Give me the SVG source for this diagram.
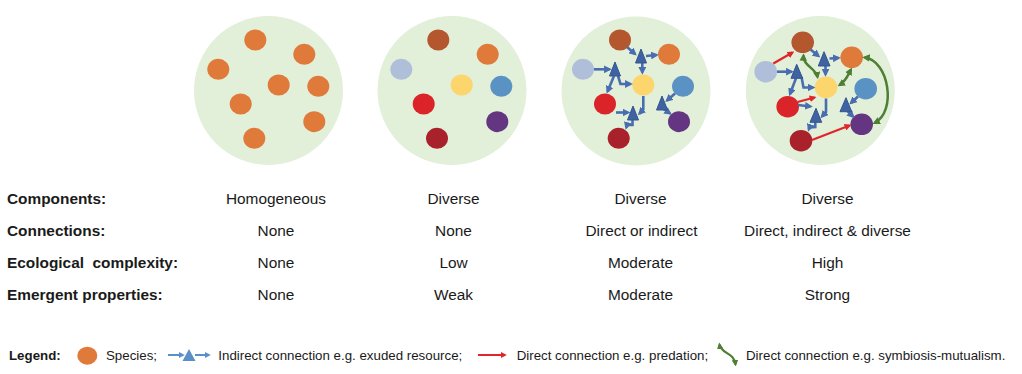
<svg xmlns="http://www.w3.org/2000/svg" width="1022" height="374" viewBox="0 0 1022 374">
<style>
.bg{fill:#e2efd9}
.or{fill:#e07a3a}.br{fill:#b4572e}.lb{fill:#afbfd9}.ye{fill:#fcd56c}.bl{fill:#5b92c4}.rd{fill:#da2429}.pu{fill:#643681}.dr{fill:#a8212b}
.tri{fill:#3f62a3;stroke:#34548f;stroke-width:1;stroke-linejoin:round}
.ba{fill:none;stroke:#4a6db0;stroke-width:2.6;marker-end:url(#mb)}
.ra{fill:none;stroke:#e0262a;stroke-width:2.3;marker-end:url(#mr)}
.ga{fill:none;stroke:#4e7f33;stroke-width:2.5;marker-start:url(#mg);marker-end:url(#mg)}
.lab{font-family:"Liberation Sans",Arial,sans-serif;font-size:15.4px;font-weight:bold;fill:#1a1a1a;white-space:pre}
.val{font-family:"Liberation Sans",Arial,sans-serif;font-size:15.4px;fill:#1a1a1a;text-anchor:middle}
.leg{font-family:"Liberation Sans",Arial,sans-serif;font-size:13.3px;fill:#1a1a1a}
</style>
<defs>
<marker id="mb" viewBox="0 0 10 10" refX="7" refY="5" markerWidth="3" markerHeight="3" orient="auto-start-reverse"><path d="M0,0 L10,5 L0,10 z" fill="#4a6db0"/></marker>
<marker id="mbl" viewBox="0 0 10 10" refX="7" refY="5" markerWidth="3" markerHeight="3" orient="auto-start-reverse"><path d="M0,0 L10,5 L0,10 z" fill="#5b8fc8"/></marker>
<marker id="mr" viewBox="0 0 10 10" refX="7" refY="5" markerWidth="3" markerHeight="3" orient="auto-start-reverse"><path d="M0,0 L10,5 L0,10 z" fill="#e0262a"/></marker>
<marker id="mg" viewBox="0 0 10 10" refX="7" refY="5" markerWidth="3" markerHeight="3" orient="auto-start-reverse"><path d="M0,0 L10,5 L0,10 z" fill="#4e7f33"/></marker>
</defs>

<!-- Panel 1 -->
<g id="panel1">
<circle class="bg" cx="268.5" cy="90.5" r="74.5"/>
<g id="p1-species">
<ellipse id="p1s1" class="or" cx="255.3" cy="40" rx="11" ry="10.5"/>
<ellipse id="p1s2" class="or" cx="304.3" cy="54.3" rx="11" ry="10.5"/>
<ellipse id="p1s3" class="or" cx="218.3" cy="69.3" rx="11" ry="10.5"/>
<ellipse id="p1s4" class="or" cx="278.7" cy="85" rx="11" ry="10.5"/>
<ellipse id="p1s5" class="or" cx="318.3" cy="86.3" rx="11" ry="10.5"/>
<ellipse id="p1s6" class="or" cx="240.7" cy="104" rx="11" ry="10.5"/>
<ellipse id="p1s7" class="or" cx="314.3" cy="121.7" rx="11" ry="10.5"/>
<ellipse id="p1s8" class="or" cx="254.3" cy="138.3" rx="11" ry="10.5"/>
</g>
</g>

<!-- Panel 2 -->
<g id="panel2">
<circle class="bg" cx="452" cy="90.5" r="74.5"/>
<g id="p2-species">
<ellipse id="p2-brown" class="br" cx="438.3" cy="40" rx="11" ry="10.5"/>
<ellipse id="p2-orange" class="or" cx="487.7" cy="54.3" rx="11" ry="10.5"/>
<ellipse id="p2-lightblue" class="lb" cx="401.3" cy="69.3" rx="11" ry="10.5"/>
<ellipse id="p2-yellow" class="ye" cx="461.7" cy="85" rx="11" ry="10.5"/>
<ellipse id="p2-blue" class="bl" cx="501.3" cy="86.3" rx="11" ry="10.5"/>
<ellipse id="p2-red" class="rd" cx="423.7" cy="104" rx="11" ry="10.5"/>
<ellipse id="p2-purple" class="pu" cx="497.3" cy="121.7" rx="11" ry="10.5"/>
<ellipse id="p2-darkred" class="dr" cx="437" cy="138.3" rx="11" ry="10.5"/>
</g>
</g>

<!-- Panel 3 -->
<g id="panel3">
<circle class="bg" cx="636" cy="91" r="74.5"/>
<g id="p3-species">
<ellipse id="p3-brown" class="br" cx="620" cy="40" rx="11" ry="10.5"/>
<ellipse id="p3-orange" class="or" cx="669" cy="54.3" rx="11" ry="10.5"/>
<ellipse id="p3-lightblue" class="lb" cx="583" cy="69.3" rx="11" ry="10.5"/>
<ellipse id="p3-yellow" class="ye" cx="643.3" cy="85" rx="11" ry="10.5"/>
<ellipse id="p3-blue" class="bl" cx="683" cy="86.3" rx="11" ry="10.5"/>
<ellipse id="p3-red" class="rd" cx="605" cy="104" rx="11" ry="10.5"/>
<ellipse id="p3-purple" class="pu" cx="679" cy="121.7" rx="11" ry="10.5"/>
<ellipse id="p3-darkred" class="dr" cx="618.7" cy="138.3" rx="11" ry="10.5"/>
</g>
<g id="p3-connectors">
<path class="ba" d="M627,47 L635,54"/>
<path class="ba" d="M646,56 L656.5,55"/>
<path class="ba" d="M642.3,63 L642.3,72.5"/>
<path class="ba" d="M594,69.3 L609.5,69.3"/>
<path class="ba" d="M614,76 L607.5,91.5"/>
<path class="ba" d="M618,76 L620.5,84 L630.5,84"/>
<path class="ba" d="M616,112.5 L628,112.5"/>
<path class="ba" d="M643.3,96 L643.3,109.5 L639.5,113.5"/>
<path class="ba" d="M632.5,119.5 L632.5,125 L627,125 L626.3,127.5"/>
<path class="ba" d="M675,93.5 L667,100.5"/>
<path class="ba" d="M663.5,109 L670,113.5"/>
</g>
<g id="p3-resources">
<polygon id="p3-t1" class="tri" points="641,49 635.5,63 646.5,63"/>
<polygon id="p3-t2" class="tri" points="615,62 609.5,76 620.5,76"/>
<polygon id="p3-t3" class="tri" points="633,106 627.5,120 638.5,120"/>
<polygon id="p3-t4" class="tri" points="662,96 656.5,110 667.5,110"/>
</g>
</g>

<!-- Panel 4 -->
<g id="panel4">
<circle class="bg" cx="820.3" cy="90.5" r="74.5"/>
<g id="p4-species">
<ellipse id="p4-brown" class="br" cx="802.7" cy="42.3" rx="11.3" ry="10.8"/>
<ellipse id="p4-orange" class="or" cx="851.7" cy="57.3" rx="11.3" ry="10.8"/>
<ellipse id="p4-lightblue" class="lb" cx="765.7" cy="71.7" rx="11.3" ry="10.8"/>
<ellipse id="p4-yellow" class="ye" cx="826" cy="87.3" rx="11.3" ry="10.8"/>
<ellipse id="p4-blue" class="bl" cx="865.7" cy="88.7" rx="11.3" ry="10.8"/>
<ellipse id="p4-red" class="rd" cx="787.7" cy="106.7" rx="11.3" ry="10.8"/>
<ellipse id="p4-purple" class="pu" cx="861.7" cy="124.3" rx="11.3" ry="10.8"/>
<ellipse id="p4-darkred" class="dr" cx="801" cy="140.7" rx="11.3" ry="10.8"/>
</g>
<g id="p4-connectors">
<path class="ba" d="M810.5,49.5 L818.5,56"/>
<path class="ba" d="M829.5,58.5 L838.5,58"/>
<path class="ba" d="M825.5,66 L825.5,74.5"/>
<path class="ba" d="M777,71.7 L791.5,71.7"/>
<path class="ba" d="M796,78.3 L790,94"/>
<path class="ba" d="M801.5,77 L803.5,87.5 L813,87.5"/>
<path class="ba" d="M798,105 L810.5,106.5"/>
<path class="ba" d="M826,98.5 L826,112 L822,116.5"/>
<path class="ba" d="M815.3,122 L815.3,127 L809.5,127.5 L808.8,129.5"/>
<path class="ba" d="M858,96.5 L851,103"/>
<path class="ba" d="M847.5,111 L853,116.5"/>
<path class="ra" d="M773.3,63.5 L792.5,52.5"/>
<path class="ra" d="M797.5,102 L814.5,97.5"/>
<path class="ra" d="M812,140 L849.5,125.5"/>
<path class="ga" d="M803.5,55.5 C803,66 816,68 817.5,77"/>
<path class="ga" d="M839.5,85 C846,81 848,75 851,69.5"/>
<path class="ga" d="M864.5,57.5 C889,60 897,112 874.5,123"/>
</g>
<g id="p4-resources">
<polygon id="p4-t1" class="tri" points="824,51.7 818.3,66 830,66"/>
<polygon id="p4-t2" class="tri" points="796.7,64.3 791,78.3 802.7,78.3"/>
<polygon id="p4-t3" class="tri" points="816,108.3 810,122.3 821.7,122.3"/>
<polygon id="p4-t4" class="tri" points="846,97.7 840,111.7 851.7,111.7"/>
</g>
</g>

<!-- Table -->
<g id="table">
<text class="lab" x="7" y="204">Components:</text>
<text class="lab" x="7" y="236">Connections:</text>
<text class="lab" x="7" y="268" xml:space="preserve">Ecological  complexity:</text>
<text class="lab" x="7" y="300">Emergent properties:</text>
<text class="val" x="276" y="204">Homogeneous</text>
<text class="val" x="276" y="236">None</text>
<text class="val" x="276" y="268">None</text>
<text class="val" x="276" y="300">None</text>
<text class="val" x="453.5" y="204">Diverse</text>
<text class="val" x="453.5" y="236">None</text>
<text class="val" x="453.5" y="268">Low</text>
<text class="val" x="453.5" y="300">Weak</text>
<text class="val" x="640.5" y="204">Diverse</text>
<text class="val" x="641.5" y="236">Direct or indirect</text>
<text class="val" x="640.5" y="268">Moderate</text>
<text class="val" x="640.5" y="300">Moderate</text>
<text class="val" x="827.5" y="204">Diverse</text>
<text class="val" x="827.5" y="236">Direct, indirect &amp; diverse</text>
<text class="val" x="827.5" y="268">High</text>
<text class="val" x="827.5" y="300">Strong</text>
</g>

<!-- Legend -->
<g id="legend">
<text class="leg" x="9" y="359.5" font-weight="bold">Legend:</text>
<ellipse id="leg-species" class="or" cx="87.3" cy="355.7" rx="10" ry="9"/>
<text class="leg" x="106" y="359.5">Species;</text>
<path d="M168,355 L183,355" fill="none" stroke="#5b8fc8" stroke-width="2" marker-end="url(#mbl)"/>
<path d="M195,355 L209,355" fill="none" stroke="#5b8fc8" stroke-width="2" marker-end="url(#mbl)"/>
<polygon points="189,349 182.5,361 195.5,361" fill="#5b8fc8"/>
<text class="leg" x="218.3" y="359.5">Indirect connection e.g. exuded resource;</text>
<path d="M478,355 L505,355" fill="none" stroke="#e0262a" stroke-width="2" marker-end="url(#mr)"/>
<text class="leg" x="516.7" y="359.5">Direct connection e.g. predation;</text>
<path d="M719.5,344.5 C721,354 734,352 735.5,364.5" fill="none" stroke="#4e7f33" stroke-width="2.2" marker-start="url(#mg)" marker-end="url(#mg)"/>
<text class="leg" x="746" y="359.5">Direct connection e.g. symbiosis-mutualism.</text>
</g>
</svg>
